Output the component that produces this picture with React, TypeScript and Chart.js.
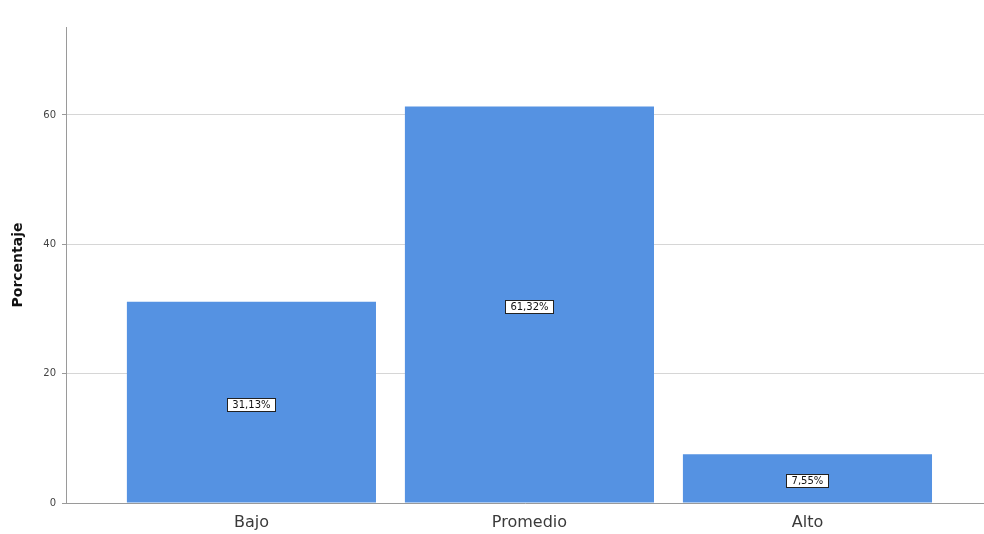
import React, { useEffect, useRef } from "react";
import { Chart, registerables } from "chart.js";

Chart.register(...registerables);

const categories = ["Bajo", "Promedio", "Alto"];
const values = [31.13, 61.32, 7.55];
const valueLabels = ["31,13%", "61,32%", "7,55%"];
const yTicks = [0, 20, 40, 60];
const xPositions = [1, 2, 3];

const FONT = "'DejaVu Sans', 'Liberation Sans', Arial, sans-serif";

const labelPlugin = {
  id: "barLabels",
  afterDatasetsDraw(chart: any) {
    const ctx = chart.ctx;
    const meta = chart.getDatasetMeta(0);
    ctx.save();
    ctx.font = "10px " + FONT;
    ctx.textAlign = "center";
    ctx.textBaseline = "middle";
    meta.data.forEach((bar: any, i: number) => {
      const cx = bar.x;
      const cy = (bar.y + bar.base) / 2 + 2;
      const text = valueLabels[i];
      const w = Math.round(ctx.measureText(text).width + 10);
      const h = 13;
      const x0 = Math.round(cx - w / 2) + 0.5;
      const y0 = Math.round(cy - h / 2) + 0.5;
      ctx.fillStyle = "#ffffff";
      ctx.fillRect(x0, y0, w, h);
      ctx.strokeStyle = "#222222";
      ctx.lineWidth = 1;
      ctx.strokeRect(x0, y0, w, h);
      ctx.fillStyle = "#111111";
      ctx.fillText(text, cx, cy + 1);
    });
    ctx.restore();
  },
};

export default function App() {
  const ref = useRef<HTMLCanvasElement>(null);
  useEffect(() => {
    document.body.style.margin = "0";
    const chart = new Chart(ref.current!, {
      type: "bar",
      data: {
        datasets: [
          {
            data: values.map((v, i) => ({ x: xPositions[i], y: v })),
            backgroundColor: "#5592e2",
            borderWidth: 0,
            categoryPercentage: 1,
            barPercentage: 0.896,
          },
        ],
      },
      options: {
        animation: false,
        responsive: false,
        layout: { padding: { top: 27, right: 0, left: 0, bottom: 0 } },
        plugins: { legend: { display: false }, tooltip: { enabled: false } },
        scales: {
          x: {
            type: "linear",
            offset: false,
            min: 0.333,
            max: 3.635,
            afterBuildTicks: (s: any) => {
              s.ticks = xPositions.map((v) => ({ value: v }));
            },
            afterFit: (s: any) => {
              s.height = 31;
            },
            grid: { display: false, drawTicks: false },
            border: { display: true, color: "#9a9a9a", width: 1 },
            ticks: {
              padding: 10,
              color: "#3a3a3a",
              font: { family: FONT, size: 16 },
              callback: (v: any) => {
                const idx = xPositions.indexOf(Number(v));
                return idx >= 0 ? categories[idx] : "";
              },
              maxRotation: 0,
            },
          },
          y: {
            min: 0,
            max: 73.6,
            afterBuildTicks: (s: any) => {
              s.ticks = yTicks.map((v) => ({ value: v }));
            },
            afterFit: (s: any) => {
              s.width = 66;
            },
            grid: { color: "#d6d6d6", tickLength: 4, tickColor: "#9a9a9a" },
            border: { display: true, color: "#9a9a9a", width: 1 },
            title: {
              display: true,
              text: "Porcentaje",
              color: "#111111",
              font: { family: FONT, size: 14, weight: "bold" },
              padding: { top: 10, bottom: 10 },
            },
            ticks: {
              padding: 6,
              color: "#444444",
              font: { family: FONT, size: 10 },
            },
          },
        },
      },
      plugins: [labelPlugin],
    } as any);
    return () => chart.destroy();
  }, []);
  return <canvas ref={ref} width={984} height={534} style={{ display: "block" }} />;
}
